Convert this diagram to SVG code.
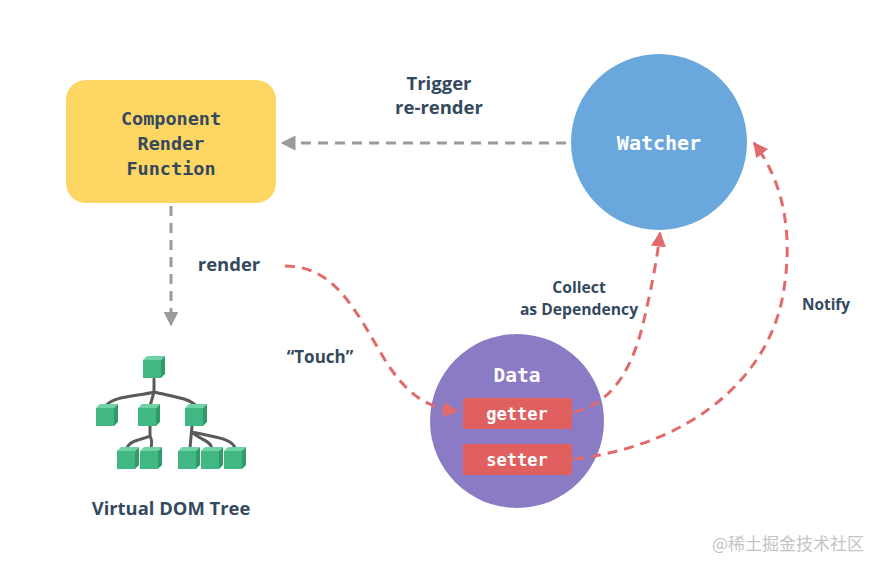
<svg xmlns="http://www.w3.org/2000/svg" width="886" height="569" viewBox="0 0 886 569">
<style>
.mono{font-family:"DejaVu Sans Mono","Liberation Mono",monospace;font-weight:bold;text-anchor:middle;dominant-baseline:central}
.lbl{font-family:"Open Sans","Liberation Sans",sans-serif;font-weight:700;fill:#34495e;text-anchor:middle;dominant-baseline:central}
.gray{fill:none;stroke:#9b9b9b;stroke-width:3;stroke-dasharray:10 7}
.red{fill:none;stroke:#e26a6a;stroke-width:3;stroke-dasharray:10 7}
.front{fill:#41b883}
.top{fill:#6fd3a4}
.side{fill:#2f9b6b}
.branch{fill:none;stroke:#5a5a5a;stroke-width:3;stroke-linecap:round}
</style>
<defs>
<marker id="ag" markerWidth="5" markerHeight="5" refX="4.5" refY="2.5" orient="auto" markerUnits="strokeWidth"><path d="M0,0 L5,2.5 L0,5 Z" fill="#9b9b9b"/></marker>
<marker id="ar" markerWidth="5" markerHeight="5" refX="4.5" refY="2.5" orient="auto" markerUnits="strokeWidth"><path d="M0,0 L5,2.5 L0,5 Z" fill="#e26a6a"/></marker>
<symbol id="cube" viewBox="0 0 22 22" overflow="visible">
<rect class="front" x="0" y="4" width="18" height="18"/>
<path class="top" d="M0,4 L4,0 L22,0 L18,4 Z"/>
<path class="side" d="M18,4 L22,0 L22,18 L18,22 Z"/>
</symbol>
</defs>
<rect width="886" height="569" fill="#ffffff"/>

<g id="component">
<rect x="66" y="80" width="210" height="123" rx="20" fill="#fdd664"/>
<text class="mono" x="171" y="118" font-size="18.5" fill="#34495e">Component</text>
<text class="mono" x="171" y="143" font-size="18.5" fill="#34495e">Render</text>
<text class="mono" x="171" y="168" font-size="18.5" fill="#34495e">Function</text>
</g>

<g id="watcher">
<circle cx="659" cy="142" r="88" fill="#6aa7dc"/>
<text class="mono" x="659" y="143" font-size="20" fill="#ffffff">Watcher</text>
</g>

<g id="data">
<circle cx="517" cy="421" r="87" fill="#8b7bc4"/>
<text class="mono" x="517" y="375" font-size="19.5" fill="#ffffff">Data</text>
<g id="getter">
<rect x="463" y="398" width="109" height="31" rx="2" fill="#e06060"/>
<text class="mono" x="517" y="414" font-size="17" fill="#ffffff">getter</text>
</g>
<g id="setter">
<rect x="463" y="444" width="109" height="31" rx="2" fill="#e06060"/>
<text class="mono" x="517" y="460" font-size="17" fill="#ffffff">setter</text>
</g>
</g>

<g id="vdom">
<g>
<path class="branch" d="M154,379 L154,392 M154,392 C140,396 112,396 106,406 M154,392 L150,406 M154,392 C170,396 190,398 196,406"/>
<path class="branch" d="M150,426 L150,436 C142,440 130,440 127,448 M150,436 C152,440 152,442 151,448"/>
<path class="branch" d="M192,426 L190,448 M192,432 C200,440 210,440 212,448 M192,432 C210,436 232,438 235,448"/>
</g>
<use href="#cube" x="143" y="356" width="22" height="22"/>
<use href="#cube" x="96" y="404" width="22" height="22"/>
<use href="#cube" x="138" y="404" width="22" height="22"/>
<use href="#cube" x="185" y="404" width="22" height="22"/>
<use href="#cube" x="117" y="447" width="22" height="22"/>
<use href="#cube" x="140" y="447" width="22" height="22"/>
<use href="#cube" x="178" y="447" width="22" height="22"/>
<use href="#cube" x="201" y="447" width="22" height="22"/>
<use href="#cube" x="224" y="447" width="22" height="22"/>
<text class="lbl" x="171" y="507" font-size="18.4">Virtual DOM Tree</text>
</g>

<g id="connectors">
<path class="gray" d="M566,143 L282,143" marker-end="url(#ag)"/>
<path class="gray" d="M171,206 L171,325" marker-end="url(#ag)"/>
<path class="red" d="M285,266 C335,266 355,310 385,360 C405,392 425,408 457,411" marker-end="url(#ar)"/>
<path class="red" d="M574,412 C605,405 630,380 644,320 C652,285 657,260 660,233" marker-end="url(#ar)"/>
<path class="red" d="M574,459 C690,445 765,380 782,300 C792,250 790,190 754,143" marker-end="url(#ar)"/>
</g>

<g id="labels">
<text class="lbl" x="439" y="82" font-size="18.5">Trigger</text>
<text class="lbl" x="439" y="106" font-size="18.5">re-render</text>
<text class="lbl" x="229" y="263" font-size="18.5">render</text>
<text class="lbl" x="320" y="356" font-size="17">“Touch”</text>
<text class="lbl" x="579" y="287" font-size="15.7">Collect</text>
<text class="lbl" x="579" y="309" font-size="15.7">as Dependency</text>
<text class="lbl" x="826" y="304" font-size="15.4">Notify</text>
</g>

<text x="788" y="542" font-family="'Noto Sans CJK SC',sans-serif" font-size="17" fill="#c4c4c4" text-anchor="middle" dominant-baseline="central">@稀土掘金技术社区</text>
</svg>
